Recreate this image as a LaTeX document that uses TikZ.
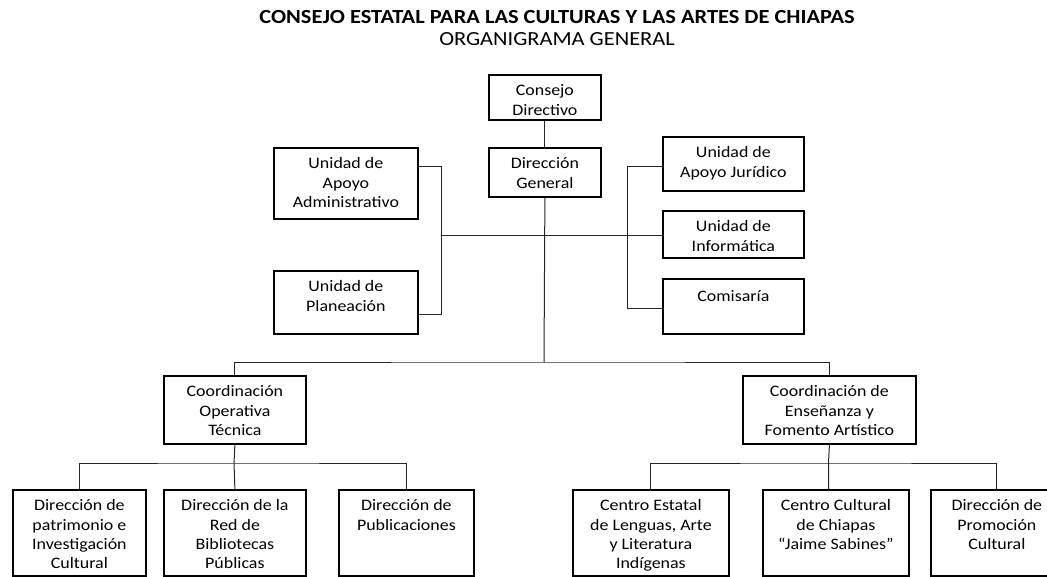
\documentclass[tikz,border=0pt]{standalone}
\usepackage{fontspec}
\setmainfont{Carlito}
\newfontfamily\boxfont[FakeStretch=1.12]{Carlito}
\tikzset{unit/.style={draw=black,line width=1.8pt,inner sep=0pt,anchor=north west},
  txt/.style={anchor=north,align=center,inner sep=0pt,yshift=-10.5pt,
    font=\boxfont\fontsize{16}{19.3}\selectfont,
    execute at begin node={\rule{0pt}{12.5pt}}},
  link/.style={draw=black!85,line width=1pt},
  head/.style={font=\boxfont\fontsize{20}{24}\selectfont,inner sep=0pt}}

\begin{document}
\begin{tikzpicture}[x=1pt,y=-1pt]
  \path[use as bounding box,clip] (0,0) rectangle (1047,577);
  \node[head] (title) at (557,17) {\bfseries CONSEJO ESTATAL PARA LAS CULTURAS Y LAS ARTES DE CHIAPAS};
  \node[head] (subtitle) at (557,39) {ORGANIGRAMA GENERAL};
  % top of the chart
  \node[unit,minimum width=112,minimum height=45,label={[txt]north:{Consejo\\Directivo}}] (cd) at (488,74) {};
  \node[unit,minimum width=112,minimum height=49,label={[txt]north:{Dirección\\General}}] (dg) at (488,147) {};
  \node[unit,minimum width=144,minimum height=71,label={[txt]north:{Unidad de\\Apoyo\\Administrativo}}] (uaa) at (273,147) {};
  \node[unit,minimum width=144,minimum height=63,label={[txt]north:{Unidad de\\Planeación}}] (upl) at (273,270) {};
  \node[unit,minimum width=141,minimum height=54,label={[txt]north:{Unidad de\\Apoyo Jurídico}}] (uaj) at (662,136) {};
  \node[unit,minimum width=141,minimum height=47,label={[txt]north:{Unidad de\\Informática}}] (uin) at (662,210) {};
  \node[unit,minimum width=141,minimum height=55,label={[txt]north:{Comisaría}}] (com) at (662,278) {};
  % coordinations
  \node[unit,minimum width=142,minimum height=68,label={[txt]north:{Coordinación\\Operativa\\Técnica}}] (cot) at (163,375) {};
  \node[unit,minimum width=173,minimum height=68,label={[txt]north:{Coordinación de\\Enseñanza y\\Fomento Artístico}}] (cef) at (742,375) {};
  % bottom row
  \node[unit,minimum width=133,minimum height=86,label={[txt]north:{Dirección de\\patrimonio e\\Investigación\\Cultural}}] (pat) at (12,489) {};
  \node[unit,minimum width=142,minimum height=86,label={[txt]north:{Dirección de la\\Red de\\Bibliotecas\\Públicas}}] (red) at (163,489) {};
  \node[unit,minimum width=135,minimum height=86,label={[txt]north:{Dirección de\\Publicaciones}}] (pub) at (338,489) {};
  \node[unit,minimum width=156,minimum height=86,label={[txt]north:{Centro Estatal\\de Lenguas, Arte\\y Literatura\\Indígenas}}] (cel) at (572,489) {};
  \node[unit,minimum width=146,minimum height=86,label={[txt]north:{Centro Cultural\\de Chiapas\\“Jaime Sabines”}}] (ccc) at (762,489) {};
  \node[unit,minimum width=132,minimum height=86,label={[txt]north:{Dirección de\\Promoción\\Cultural}}] (dpc) at (930,489) {};

  \coordinate (lbtop) at (441,167);
  \coordinate (lbbot) at (441,315);
  \coordinate (rbtop) at (627,167);
  \coordinate (rbbot) at (627,309);
  \coordinate (mid) at (441,236);
  \coordinate (spine) at (544,362);
  \coordinate (lbus) at (234,463);
  \coordinate (rbus) at (828.5,463);

  \draw[link] (cd.south) -- (dg.north);
  \draw[link] (dg.south) -- (spine);
  \draw[link] (uaa.east |- lbtop) -- (lbtop) -- (lbbot) -- (upl.east |- lbbot);
  \draw[link] (uaj.west |- rbtop) -- (rbtop) -- (rbbot) -- (com.west |- rbbot);
  \draw[link] (mid) -- (uin.west |- mid);
  \draw[link] (cot.north) |- (spine) -| (cef.north);
  \draw[link] (cot.south) -- (lbus) -- (red.north);
  \draw[link] (pat.north) |- (lbus) -| (pub.north);
  \draw[link] (cef.south) -- (rbus) -- (ccc.north -| rbus);
  \draw[link] (cel.north) |- (rbus) -| (dpc.north);
\end{tikzpicture}
\end{document}
